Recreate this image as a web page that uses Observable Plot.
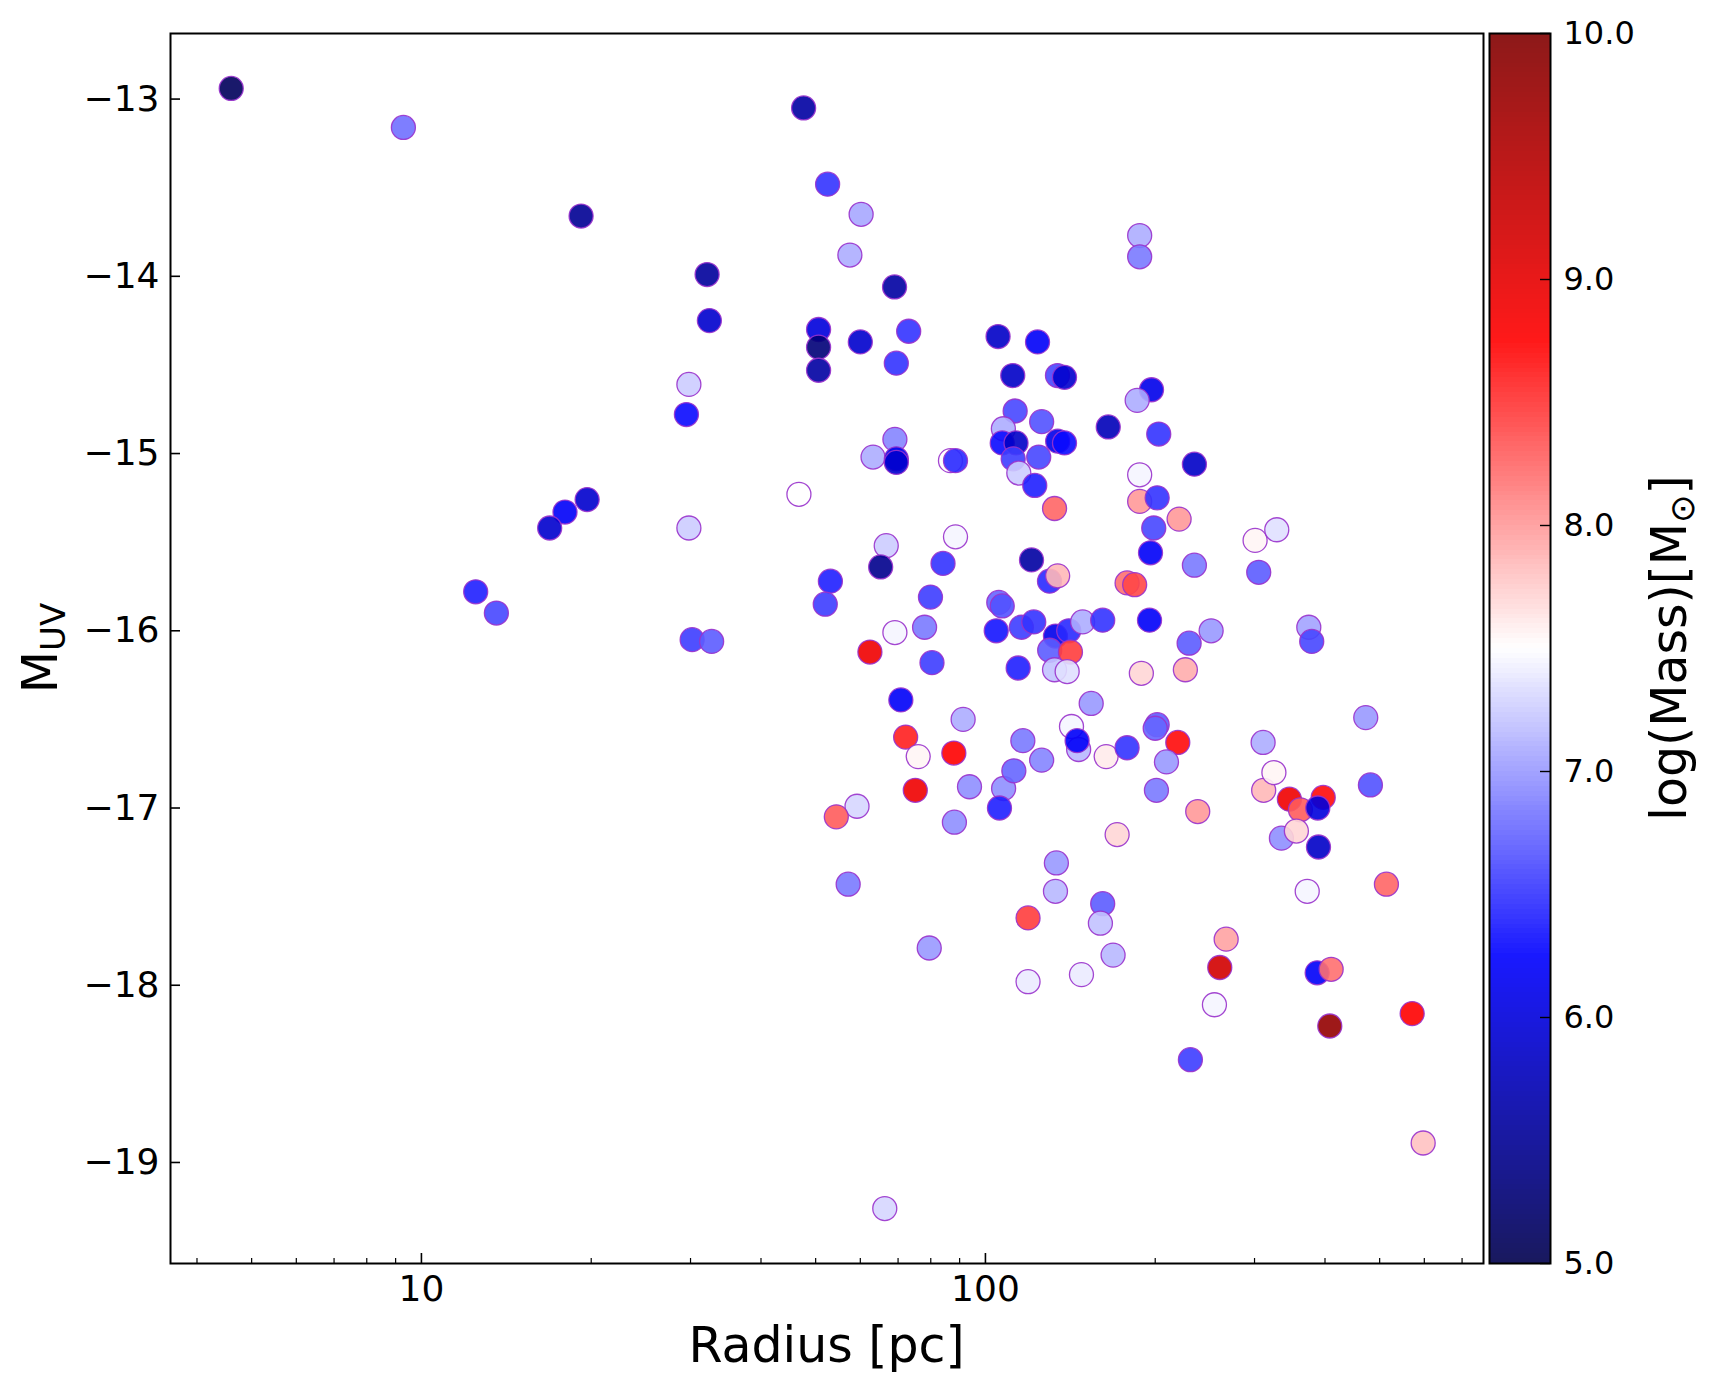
<!DOCTYPE html>
<html>
<head>
<meta charset="utf-8">
<script src="https://cdn.jsdelivr.net/npm/d3@7"></script>
<script src="https://cdn.jsdelivr.net/npm/@observablehq/plot@0.6"></script>
<style>
html, body { margin: 0; padding: 0; background: #fff; }
#chart { position: relative; width: 1717px; height: 1391px; overflow: hidden; background: #fff; }
#chart svg { position: absolute; left: 0; top: 0; max-width: none; }
</style>
</head>
<body>
<div id="chart"></div>
<script>
// ---- data ----
const radius = [4.60, 9.29, 19.19, 47.6, 52.5, 60.2, 57.5, 32.1, 32.4, 69.0,
  50.6, 50.6, 50.6, 60.0, 73.1, 69.5, 29.8, 29.5, 105.3, 123.7,
  111.8, 134.2, 138.1, 112.9, 125.8, 107.6, 107.1, 113.3, 134.3, 138.1,
  112.0, 124.3, 114.6, 122.3, 69.1, 63.2, 69.5, 69.5, 86.7, 88.5,
  165.1, 132.6, 46.7, 29.8, 66.7, 65.2, 88.5, 84.1, 53.1, 52.0,
  79.9, 120.7, 129.9, 134.3, 30.2, 32.7, 105.6, 107.1, 104.5, 115.8,
  121.8, 133.1, 140.5, 148.7, 161.4, 130.0, 141.5, 132.6, 139.6, 114.3,
  62.4, 69.1, 78.0, 80.4, 70.8, 91.3, 72.2, 76.0, 87.9, 75.1,
  93.7, 107.7, 105.9, 112.3, 116.5, 125.8, 154.0, 142.1, 146.3, 145.4,
  163.7, 88.1, 59.2, 54.4, 171.2, 133.6, 133.1, 161.4, 159.9, 168.4,
  119.0, 57.1, 79.5, 119.0, 148.0, 66.3, 201.0, 237.9, 311.4, 324.7,
  345.9, 397.1, 361.8, 388.4, 481.5, 334.8, 355.9, 389.5, 372.0, 514.0,
  267.2, 260.3, 254.7, 230.9, 387.4, 410.2, 407.9, 571.0, 597.2, 202.9,
  234.7, 187.7, 187.7, 201.6, 220.5, 198.8, 196.2, 234.7, 300.7, 328.5,
  305.2, 178.3, 183.9, 195.4, 229.7, 251.3, 374.4, 378.9, 189.0, 226.2,
  201.6, 200.0, 219.3, 178.3, 209.4, 310.7, 472.4, 187.7, 187.7, 197.0,
  185.8, 12.48, 13.58, 19.67, 17.97, 16.88];

const muv = [-12.94, -13.16, -13.66, -13.05, -13.48, -13.65, -13.88, -13.99, -14.25, -14.06,
  -14.30, -14.40, -14.53, -14.37, -14.31, -14.49, -14.61, -14.78, -14.34, -14.37,
  -14.56, -14.56, -14.57, -14.76, -14.82, -14.86, -14.94, -14.94, -14.93, -14.94,
  -15.03, -15.02, -15.11, -15.18, -14.92, -15.02, -15.03, -15.05, -15.04, -15.04,
  -14.85, -15.31, -15.23, -15.42, -15.52, -15.64, -15.47, -15.62, -15.72, -15.85,
  -15.81, -15.60, -15.72, -15.69, -16.05, -16.06, -15.84, -15.86, -16.00, -15.98,
  -15.95, -16.03, -16.00, -15.95, -15.94, -16.11, -16.12, -16.22, -16.23, -16.21,
  -16.12, -16.01, -15.98, -16.18, -16.39, -16.50, -16.60, -16.71, -16.69, -16.90,
  -16.88, -16.89, -17.00, -16.79, -16.62, -16.73, -16.41, -16.54, -16.67, -16.62,
  -16.71, -17.08, -16.99, -17.05, -17.15, -17.31, -17.47, -17.54, -17.65, -17.83,
  -17.62, -17.43, -17.79, -17.98, -17.94, -19.26, -16.90, -17.02, -16.90, -16.80,
  -16.95, -16.94, -17.01, -17.00, -16.87, -17.17, -17.13, -17.22, -17.47, -17.43,
  -17.74, -17.90, -18.11, -18.42, -17.93, -17.91, -18.23, -18.16, -18.89, -14.89,
  -15.06, -15.12, -15.27, -15.25, -15.37, -15.42, -15.56, -15.63, -15.49, -15.43,
  -15.67, -15.73, -15.74, -15.94, -16.07, -16.00, -15.98, -16.06, -16.24, -16.22,
  -16.53, -16.55, -16.63, -16.66, -16.74, -16.63, -16.49, -13.77, -13.89, -14.64,
  -14.70, -15.78, -15.90, -15.26, -15.33, -15.42];

const logMass = [5.1, 6.8, 5.5, 5.6, 6.5, 7.07, 7.1, 5.55, 5.9, 5.6,
  6.0, 5.3, 5.6, 5.9, 6.5, 6.5, 7.25, 6.3, 5.85, 6.2,
  5.85, 6.6, 5.9, 6.6, 6.65, 7.1, 6.3, 5.85, 6.1, 6.3,
  6.55, 6.6, 7.25, 6.4, 6.9, 7.1, 6.1, 5.9, 7.5, 6.45,
  5.75, 8.25, 7.5, 7.25, 7.25, 5.45, 7.45, 6.5, 6.4, 6.55,
  6.55, 5.6, 6.45, 7.85, 6.55, 6.7, 6.75, 6.65, 6.35, 6.55,
  6.5, 6.1, 6.45, 7.1, 6.5, 6.7, 8.45, 7.2, 7.35, 6.4,
  8.9, 7.45, 6.85, 6.55, 6.2, 7.1, 8.6, 7.55, 8.75, 8.9,
  6.95, 6.95, 6.4, 6.75, 6.85, 6.9, 7.0, 7.45, 7.15, 6.2,
  7.6, 6.95, 7.3, 8.3, 7.7, 7.0, 7.15, 6.7, 7.2, 7.15,
  8.45, 6.85, 7.0, 7.4, 7.4, 7.3, 6.85, 8.0, 7.85, 7.55,
  8.9, 8.7, 8.3, 6.0, 6.65, 6.95, 7.7, 5.85, 7.45, 8.25,
  7.95, 9.2, 7.45, 6.55, 6.2, 8.2, 9.8, 8.75, 7.8, 6.5,
  5.85, 7.45, 8.0, 6.5, 8.0, 6.6, 6.2, 6.85, 7.55, 7.35,
  6.7, 8.2, 8.4, 6.2, 6.7, 7.0, 7.05, 6.6, 7.7, 7.9,
  6.7, 6.75, 8.7, 6.5, 7.0, 7.1, 7.0, 7.1, 6.85, 6.1,
  7.1, 6.4, 6.6, 5.9, 6.2, 5.9];

const yTicks = [-19, -18, -17, -16, -15, -14, -13];
const xMajorTicks = [10, 100];
const xMinorTicks = [4, 5, 6, 7, 8, 9, 20, 30, 40, 50, 60, 70, 80, 90, 200, 300, 400, 500, 600, 700];
const cbTicks = [5, 6, 7, 8, 9, 10];
const seismicStops = [5, 6.25, 7.5, 8.75, 10];
const seismicColors = ["rgb(0,0,77)", "rgb(0,0,255)", "rgb(255,255,255)", "rgb(255,0,0)", "rgb(128,0,0)"];

// ---- layout ----
const W = 1717, H = 1391;
const mL = 170, mR = 234, mT = 33, mB = 128;
const frameW = W - mL - mR, frameH = H - mT - mB;
const cbL = 1489, cbR = W - 1550;
const cbW = W - cbL - cbR;
const font = "DejaVu Sans, Liberation Sans, sans-serif";

const data = radius.map((r, i) => ({r, m: muv[i], mass: logMass[i]}));
const colorScale = {type: "linear", domain: seismicStops, range: seismicColors, interpolate: "rgb"};

const main = Plot.plot({
  width: W, height: H,
  marginLeft: mL, marginRight: mR, marginTop: mT, marginBottom: mB,
  style: {fontFamily: font, background: "transparent", color: "black"},
  x: {type: "log", domain: [3.59, 764]},
  y: {domain: [-19.57, -12.63]},
  color: colorScale,
  marks: [
    Plot.dot(data, {x: "r", y: "m", r: 12, fill: "mass", fillOpacity: 0.9,
      stroke: "#9932cc", strokeOpacity: 0.9, strokeWidth: 1.3}),
    Plot.ruleY(yTicks, {y: d => d, insetRight: frameW - 10, stroke: "black", strokeWidth: 1.6}),
    Plot.ruleX(xMajorTicks, {x: d => d, insetTop: frameH - 10, stroke: "black", strokeWidth: 1.6}),
    Plot.ruleX(xMinorTicks, {x: d => d, insetTop: frameH - 5, stroke: "black", strokeWidth: 1.2}),
    Plot.axisY(yTicks, {tickSize: 0, tickPadding: 11, fontSize: 36, tickFormat: d3.format("d"), label: null}),
    Plot.axisX(xMajorTicks, {tickSize: 0, tickPadding: 12, fontSize: 36, tickFormat: d => String(d), label: null}),
    Plot.frame({stroke: "black", strokeWidth: 2})
  ]
});

const bands = d3.range(5, 10, 0.02);
const cbar = Plot.plot({
  width: W, height: H,
  marginLeft: cbL, marginRight: cbR, marginTop: mT, marginBottom: mB,
  style: {fontFamily: font, background: "transparent", color: "black"},
  x: {domain: [0, 1], axis: null},
  y: {domain: [5, 10]},
  color: colorScale,
  marks: [
    Plot.rect(bands, {x1: 0, x2: 1, y1: d => d, y2: d => d + 0.02, fill: d => d + 0.01,
      fillOpacity: 0.9, shapeRendering: "crispEdges"}),
    Plot.ruleY(cbTicks, {y: d => d, insetLeft: cbW - 10, stroke: "black", strokeWidth: 1.4}),
    Plot.axisY(cbTicks, {anchor: "right", tickSize: 0, tickPadding: 13, fontSize: 32,
      tickFormat: d3.format(".1f"), label: null}),
    Plot.frame({stroke: "black", strokeWidth: 2})
  ]
});

const chart = document.getElementById("chart");
chart.appendChild(main);
chart.appendChild(cbar);

// ---- axis titles (real text with subscripts) ----
const svg = d3.select(main);
svg.append("text")
  .attr("x", mL + frameW / 2).attr("y", 1362)
  .attr("text-anchor", "middle")
  .attr("font-family", font).attr("font-size", 49).attr("fill", "black")
  .text("Radius [pc]");

const yl = svg.append("text")
  .attr("transform", `translate(57,${mT + frameH / 2}) rotate(-90)`)
  .attr("text-anchor", "middle")
  .attr("font-family", font).attr("font-size", 49).attr("fill", "black");
yl.append("tspan").text("M");
yl.append("tspan").attr("font-size", 34).attr("dy", 8).text("UV");

const cl = d3.select(cbar).append("text")
  .attr("transform", `translate(1686,${mT + frameH / 2}) rotate(-90)`)
  .attr("text-anchor", "middle")
  .attr("font-family", font).attr("font-size", 49).attr("fill", "black");
cl.append("tspan").text("log(Mass)[M");
cl.append("tspan").attr("font-size", 34).attr("dy", 8).text("⊙");
cl.append("tspan").attr("dy", -8).text("]");
</script>
</body>
</html>
